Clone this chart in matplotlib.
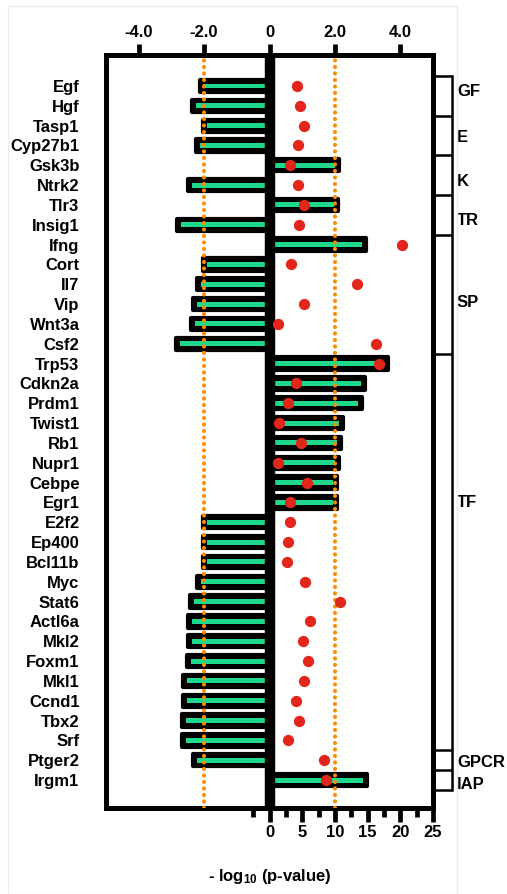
import numpy as np
import matplotlib
matplotlib.use("Agg")
import matplotlib.pyplot as plt
from matplotlib.patches import Rectangle
from matplotlib.transforms import blended_transform_factory

plt.rcParams['font.family'] = ['Liberation Sans', 'DejaVu Sans']
plt.rcParams['font.weight'] = 'bold'
plt.rcParams['mathtext.fontset'] = 'custom'
plt.rcParams['mathtext.rm'] = 'Liberation Sans:bold'
plt.rcParams['mathtext.default'] = 'rm'

genes = ['Egf', 'Hgf', 'Tasp1', 'Cyp27b1', 'Gsk3b', 'Ntrk2', 'Tlr3', 'Insig1',
         'Ifng', 'Cort', 'Il7', 'Vip', 'Wnt3a', 'Csf2', 'Trp53', 'Cdkn2a',
         'Prdm1', 'Twist1', 'Rb1', 'Nupr1', 'Cebpe', 'Egr1', 'E2f2', 'Ep400',
         'Bcl11b', 'Myc', 'Stat6', 'Actl6a', 'Mkl2', 'Foxm1', 'Mkl1', 'Ccnd1',
         'Tbx2', 'Srf', 'Ptger2', 'Irgm1']

# log2 fold change
fold = [-2.02, -2.25, -1.91, -2.13, 2.0, -2.36, 1.98, -2.72,
        2.84, -1.91, -2.1, -2.21, -2.28, -2.74, 3.5, 2.79,
        2.71, 2.13, 2.06, 2.0, 1.93, 1.93, -1.91, -1.91,
        -1.91, -2.1, -2.31, -2.37, -2.36, -2.39, -2.51, -2.51,
        -2.56, -2.56, -2.21, 2.86]

# -log10(p-value)
pval = [4.2, 4.6, 5.2, 4.3, 3.2, 4.3, 5.2, 4.5,
        20.2, 3.3, 13.4, 5.3, 1.3, 16.3, 16.7, 4.0,
        2.9, 1.4, 4.8, 1.3, 5.7, 3.1, 3.1, 2.9,
        2.7, 5.5, 10.8, 6.2, 5.1, 5.9, 5.2, 4.0,
        4.5, 2.8, 8.3, 8.7]

groups = ['GF', 'E', 'K', 'TR', 'SP', 'TF', 'GPCR', 'IAP']
group_sizes = [2, 2, 2, 2, 6, 20, 1, 1]
group_label_rows = [0.3, 2.6, 4.8, 6.8, 10.9, 21.0, 34.1, 35.2]

W, H = 507, 894
fig = plt.figure(figsize=(W / 100, H / 100), dpi=100)
fig.patches.append(Rectangle((8 / W, 0), (457 - 8) / W, (H - 6) / H,
                             transform=fig.transFigure, fill=False,
                             edgecolor='#ececec', lw=1))

ax = fig.add_axes([106 / W, (H - 808) / H, (433 - 106) / W, (808 - 55) / H])
# second scale on the bottom for the p-values
ax2 = ax.twiny()

y = np.arange(len(genes))
f = np.array(fold)
sgn = np.sign(f)

ax.barh(y, f + 0.12 * sgn, height=0.62, color='black', edgecolor='black',
        lw=3, joinstyle='round', zorder=2)
ax.barh(y, f, height=0.25, color='#1ED98C', lw=0, zorder=3)
ax.axvline(0, color='black', lw=7.5, zorder=4)
for xv in (-2, 2):
    ax.axvline(xv, color='#FF8C00', lw=3.0, ls=(0, (0.01, 1.55)),
               dash_capstyle='round', zorder=5)

ax.set_xlim(-5, 5)
ax.set_ylim(36.41, -1.563)
ax.set_yticks(y)
ax.set_yticklabels(genes, fontsize=12, fontweight='bold')
ax.tick_params(axis='y', length=0, pad=19)
ax.xaxis.set_ticks_position('top')
ax.xaxis.set_label_position('top')
ax.set_xticks([-4, -2, 0, 2, 4])
ax.set_xticklabels(['-4.0', '-2.0', '0', '2.0', '4.0'], fontsize=12,
                   fontweight='bold')
ax.tick_params(axis='x', direction='out', length=8, width=3.4, pad=3,
               top=True, bottom=False, labeltop=True, labelbottom=False)
for sp in ax.spines.values():
    sp.set_linewidth(3.6)

ax2.set_xlim(-25, 25)
ax2.scatter(pval, y, s=66, color='#E3261C', lw=0, zorder=6)
ax2.xaxis.set_ticks_position('bottom')
ax2.xaxis.set_label_position('bottom')
ax2.set_xticks([0, 5, 10, 15, 20, 25])
ax2.set_xticklabels(['0', '5', '10', '15', '20', '25'], fontsize=12,
                    fontweight='bold')
ax2.set_xticks(np.arange(-2.5, 25, 5), minor=True)
ax2.tick_params(axis='x', which='major', direction='out', length=10, width=3.4,
                pad=2.5, top=False, labeltop=False, bottom=True, labelbottom=True)
ax2.tick_params(axis='x', which='minor', direction='out', length=6.5, width=3.4,
                top=False, bottom=True)
for sp in ax2.spines.values():
    sp.set_visible(False)
ax2.set_xlabel('- log$_{10}$ (p-value)', fontsize=12, fontweight='bold',
               labelpad=19)

# category brackets on the right
trans = blended_transform_factory(ax.transAxes, ax.transData)
xb = (452 - 106) / (433 - 106)
bounds = np.concatenate([[-0.5], np.cumsum(group_sizes) - 0.5])
for b in bounds:
    ax.plot([1.0, xb], [b, b], color='black', lw=1.8, transform=trans,
            clip_on=False, solid_capstyle='butt')
ax.plot([xb, xb], [bounds[0], bounds[-1]], color='black', lw=1.8,
        transform=trans, clip_on=False)
for g, r in zip(groups, group_label_rows):
    ax.text(xb + 0.015, r, g, transform=trans, fontsize=12,
            fontweight='bold', va='center', ha='left')

fig.savefig('out.png', dpi=100)
